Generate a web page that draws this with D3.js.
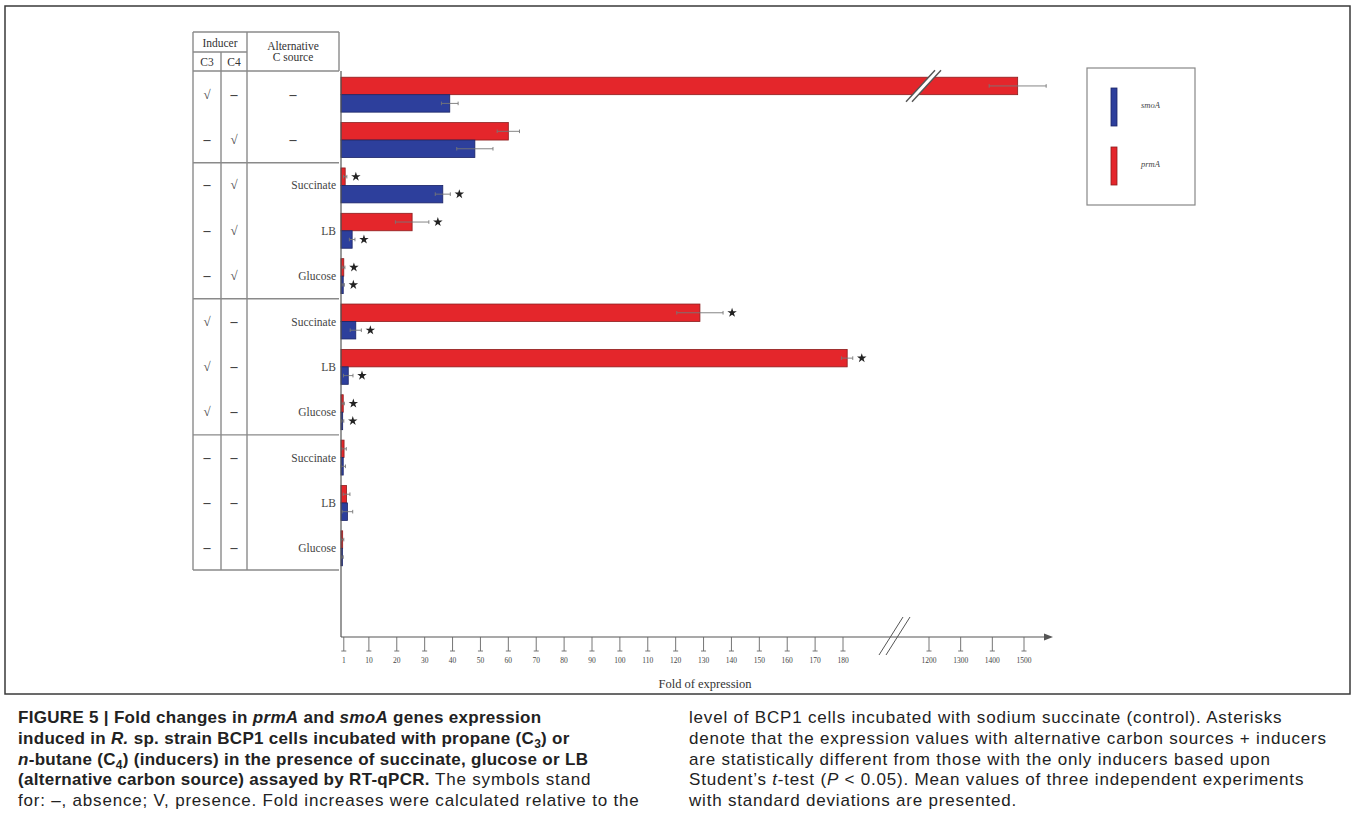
<!DOCTYPE html>
<html>
<head>
<meta charset="utf-8">
<script src="https://cdn.jsdelivr.net/npm/d3@7"></script>
<style>
  html, body { margin: 0; padding: 0; background: #fff; }
  svg { display: block; }
</style>
</head>
<body>
<svg id="fig" width="1357" height="837"></svg>
<script>
// Conditions (one row per condition), top to bottom
const inducerC3 = ["√", "–", "–", "–", "–", "√", "√", "√", "–", "–", "–"];
const inducerC4 = ["–", "√", "√", "√", "√", "–", "–", "–", "–", "–", "–"];
const altSource = ["–", "–", "Succinate", "LB", "Glucose", "Succinate", "LB", "Glucose", "Succinate", "LB", "Glucose"];

// Fold of expression (mean) and standard deviation
const prmA    = [1480, 60, 1.5, 25.5, 1.0, 128.7, 181.5, 0.8, 1.1, 2.0, 0.6];
const prmAErr = [90, 4, 0.6, 6, 0.4, 8.3, 2, 0.4, 0.8, 1.2, 0.4];
const smoA    = [39, 48, 36.5, 4.0, 0.8, 5.3, 2.6, 0.6, 0.8, 2.3, 0.5];
const smoAErr = [3, 6.5, 2.7, 1, 0.4, 2, 1.7, 0.4, 0.8, 1.9, 0.3];

// Significance flags (Student's t-test, P < 0.05)
const prmAStar = [0, 0, 1, 1, 1, 1, 1, 1, 0, 0, 0];
const smoAStar = [0, 0, 1, 1, 1, 1, 1, 1, 0, 0, 0];

// Axis ticks on each side of the axis break
const ticksLow  = [1, 10, 20, 30, 40, 50, 60, 70, 80, 90, 100, 110, 120, 130, 140, 150, 160, 170, 180];
const ticksHigh = [1200, 1300, 1400, 1500];

const genes = ["prmA", "smoA"];
const geneColor = { prmA: "#e4262b", smoA: "#2d3f9c" };
const geneStroke = { prmA: "#8c1d1d", smoA: "#1b2466" };

const svg = d3.select("#fig");
const serif = "'Liberation Serif', 'DejaVu Serif', serif";
const sans = "'Liberation Sans', Arial, sans-serif";

// Outer frame of the figure panel
svg.append("rect").attr("x", 5).attr("y", 6).attr("width", 1345).attr("height", 688)
  .attr("fill", "none").attr("stroke", "#3a3a3a").attr("stroke-width", 1.5);

// Broken x axis: linear 0–180 segment, then 1200–1500 segment past the break
const xLow = d3.scaleLinear().domain([0, 180]).range([341, 843]);
const xHigh = d3.scaleLinear().domain([1200, 1500]).range([929, 1024]);
const x = v => (v < 1000 ? xLow(v) : xHigh(v));

const rowIdx = d3.range(altSource.length);
const y = d3.scaleBand().domain(rowIdx).range([72, 571]).paddingInner(0.23).paddingOuter(0.115);
const ySub = d3.scaleBand().domain(genes).range([0, y.bandwidth()]);

const axisY = 637;

// ---- Condition table ----
const tbl = svg.append("g").attr("stroke", "#8a8a8a").attr("stroke-width", 1.4);
const tL = 193, tC = 221, tA = 247, tR = 339, tTop = 32, tMid = 52, tHead = 71, tBot = 570;
[[tL, tTop, tR, tTop], [tL, tMid, tA, tMid], [tL, tHead, tR, tHead], [tL, tBot, tR, tBot],
 [tL, tTop, tL, tBot], [tC, tMid, tC, tBot], [tA, tTop, tA, tBot], [tR, tTop, tR, tHead]]
  .forEach(s => tbl.append("line").attr("x1", s[0]).attr("y1", s[1]).attr("x2", s[2]).attr("y2", s[3]));
// group separators
[2, 5, 8].forEach(i => {
  const yy = y(i) - y.step() * y.paddingInner() / 2;
  tbl.append("line").attr("x1", tL).attr("x2", tR).attr("y1", yy).attr("y2", yy);
});

const head = svg.append("g").attr("font-family", serif).attr("fill", "#333").attr("text-anchor", "middle");
head.append("text").attr("x", (tL + tA) / 2).attr("y", 47).attr("font-size", 11.5).text("Inducer");
head.append("text").attr("x", (tL + tC) / 2).attr("y", 66).attr("font-size", 11.5).text("C3");
head.append("text").attr("x", (tC + tA) / 2).attr("y", 66).attr("font-size", 11.5).text("C4");
head.append("text").attr("x", 293).attr("y", 50).attr("font-size", 11.5).text("Alternative");
head.append("text").attr("x", 293).attr("y", 61).attr("font-size", 11.5).text("C source");

const cells = svg.append("g").attr("font-family", serif).attr("fill", "#444");
rowIdx.forEach(i => {
  const cy = y(i) + y.bandwidth() / 2 + 4;
  [[inducerC3[i], (tL + tC) / 2], [inducerC4[i], (tC + tA) / 2]].forEach(([v, cx]) => {
    cells.append("text").attr("x", cx).attr("y", cy).attr("text-anchor", "middle")
      .attr("font-size", v === "√" ? 13 : 14).attr("font-weight", v === "√" ? "normal" : "bold").text(v);
  });
  const a = altSource[i];
  if (a === "–") {
    cells.append("text").attr("x", 293).attr("y", cy).attr("text-anchor", "middle")
      .attr("font-size", 14).attr("font-weight", "bold").text(a);
  } else {
    cells.append("text").attr("x", 336).attr("y", cy).attr("text-anchor", "end")
      .attr("font-size", 11.5).text(a);
  }
});

// ---- Bars ----
const series = { prmA: prmA, smoA: smoA };
const errs = { prmA: prmAErr, smoA: smoAErr };
const stars = { prmA: prmAStar, smoA: smoAStar };
const bars = svg.append("g");
genes.forEach(g => {
  rowIdx.forEach(i => {
    const v = series[g][i], e = errs[g][i];
    const y0 = y(i) + ySub(g), h = ySub.bandwidth();
    const cy = y0 + h / 2;
    bars.append("rect").attr("x", x(0)).attr("y", y0)
      .attr("width", Math.max(0.8, x(v) - x(0))).attr("height", h)
      .attr("fill", geneColor[g]).attr("stroke", geneStroke[g]).attr("stroke-width", 0.8);
    // standard deviation whiskers
    const ex0 = x(Math.max(0, v - e)), ex1 = x(v + e);
    bars.append("line").attr("x1", ex0).attr("x2", ex1).attr("y1", cy).attr("y2", cy)
      .attr("stroke", "#777").attr("stroke-width", 0.9);
    [ex0, ex1].forEach(xx => bars.append("line").attr("x1", xx).attr("x2", xx)
      .attr("y1", cy - 1.8).attr("y2", cy + 1.8).attr("stroke", "#777").attr("stroke-width", 0.9));
    if (stars[g][i]) {
      bars.append("path").attr("d", d3.symbol(d3.symbolStar, 28)())
        .attr("transform", `translate(${ex1 + 9},${cy})`).attr("fill", "#222");
    }
  });
});

// Break marks across the long prmA bar
const bb = svg.append("g");
const by0 = y(0) + ySub("prmA"), by1 = by0 + ySub.bandwidth();
bb.append("path").attr("d", `M ${906} ${by1 + 7} L ${935} ${by0 - 7} L ${941} ${by0 - 7} L ${912} ${by1 + 7} Z`)
  .attr("fill", "#fff");
[[906, 935], [912, 941]].forEach(([a, b]) => bb.append("line")
  .attr("x1", a).attr("y1", by1 + 7).attr("x2", b).attr("y2", by0 - 7)
  .attr("stroke", "#555").attr("stroke-width", 1.4));

// ---- Axes ----
const ax = svg.append("g").attr("stroke", "#555").attr("stroke-width", 1.2);
ax.append("line").attr("x1", x(0)).attr("x2", x(0)).attr("y1", 71).attr("y2", axisY);
ax.append("line").attr("x1", x(0)).attr("x2", 1048).attr("y1", axisY).attr("y2", axisY);
svg.append("path").attr("d", `M 1053 ${axisY} L 1044 ${axisY - 3.5} L 1044 ${axisY + 3.5} Z`).attr("fill", "#555");
// axis break
[[879, 903], [886, 910]].forEach(([a, b]) => ax.append("line")
  .attr("x1", a).attr("y1", axisY + 18).attr("x2", b).attr("y2", axisY - 20).attr("stroke-width", 1));

const tk = svg.append("g");
ticksLow.concat(ticksHigh).forEach(t => {
  const tx = x(t);
  tk.append("line").attr("x1", tx).attr("x2", tx).attr("y1", axisY).attr("y2", axisY + 14)
    .attr("stroke", "#666").attr("stroke-width", 0.9);
  tk.append("line").attr("x1", tx - 2.5).attr("x2", tx + 2.5).attr("y1", axisY + 14).attr("y2", axisY + 14)
    .attr("stroke", "#666").attr("stroke-width", 0.9);
  tk.append("text").attr("x", tx).attr("y", axisY + 26).attr("text-anchor", "middle")
    .attr("font-family", serif).attr("font-size", 7.5).attr("fill", "#444").text(t);
});

svg.append("text").attr("x", 705).attr("y", 688).attr("text-anchor", "middle")
  .attr("font-family", serif).attr("font-size", 12.5).attr("fill", "#333").text("Fold of expression");

// ---- Legend ----
const lg = svg.append("g");
lg.append("rect").attr("x", 1087).attr("y", 68).attr("width", 108).attr("height", 137)
  .attr("fill", "#fff").attr("stroke", "#888").attr("stroke-width", 1.2);
[["smoA", 88], ["prmA", 147]].forEach(([g, ty]) => {
  lg.append("rect").attr("x", 1111).attr("y", ty).attr("width", 6).attr("height", 38)
    .attr("fill", geneColor[g]).attr("stroke", geneStroke[g]).attr("stroke-width", 0.8);
  lg.append("text").attr("x", 1141).attr("y", ty + 20).attr("font-family", serif)
    .attr("font-style", "italic").attr("font-size", 8.5).attr("fill", "#444").text(g);
});

// ---- Caption ----
const cap = svg.append("g").attr("font-family", sans).attr("font-size", 17).attr("fill", "#222");
function line(xp, yp, parts) {
  const t = cap.append("text").attr("x", xp).attr("y", yp);
  parts.forEach(p => {
    const s = t.append("tspan").text(p.t);
    if (p.b) s.attr("font-weight", "bold").attr("letter-spacing", 0.3);
    else s.attr("letter-spacing", 0.8);
    if (p.i) s.attr("font-style", "italic");
    if (p.sub) s.attr("font-size", 12).attr("dy", 4);
    if (p.up) s.attr("dy", -4);
  });
}
const L = 18, R = 689, b0 = 723, dl = 20.8;
line(L, b0, [{ t: "FIGURE 5 | Fold changes in ", b: 1 }, { t: "prmA", b: 1, i: 1 }, { t: " and ", b: 1 },
  { t: "smoA", b: 1, i: 1 }, { t: " genes expression", b: 1 }]);
line(L, b0 + dl, [{ t: "induced in ", b: 1 }, { t: "R.", b: 1, i: 1 }, { t: " sp. strain BCP1 cells incubated with propane (C", b: 1 },
  { t: "3", b: 1, sub: 1 }, { t: ") or", b: 1, up: 1 }]);
line(L, b0 + 2 * dl, [{ t: "n", b: 1, i: 1 }, { t: "-butane (C", b: 1 }, { t: "4", b: 1, sub: 1 },
  { t: ") (inducers) in the presence of succinate, glucose or LB", b: 1, up: 1 }]);
line(L, b0 + 3 * dl, [{ t: "(alternative carbon source) assayed by RT-qPCR.", b: 1 }, { t: " The symbols stand" }]);
line(L, b0 + 4 * dl, [{ t: "for: –, absence; V, presence. Fold increases were calculated relative to the" }]);
line(R, b0, [{ t: "level of BCP1 cells incubated with sodium succinate (control). Asterisks" }]);
line(R, b0 + dl, [{ t: "denote that the expression values with alternative carbon sources + inducers" }]);
line(R, b0 + 2 * dl, [{ t: "are statistically different from those with the only inducers based upon" }]);
line(R, b0 + 3 * dl, [{ t: "Student’s " }, { t: "t", i: 1 }, { t: "-test (" }, { t: "P", i: 1 }, { t: " < 0.05). Mean values of three independent experiments" }]);
line(R, b0 + 4 * dl, [{ t: "with standard deviations are presented." }]);
</script>
</body>
</html>
